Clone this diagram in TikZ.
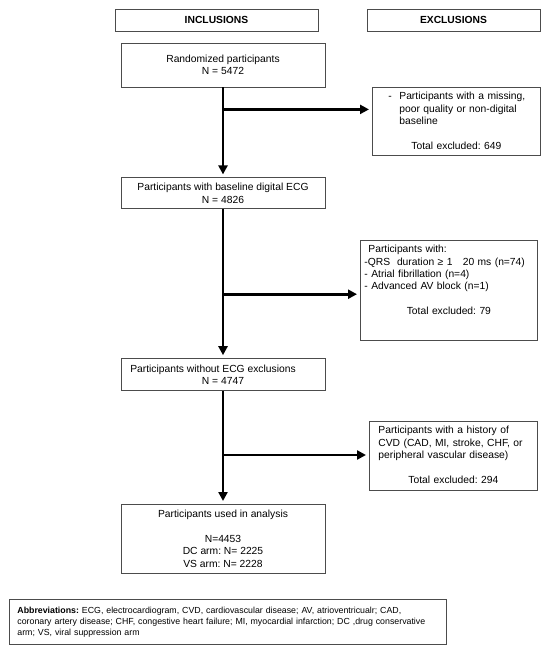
\documentclass[tikz,border=0pt]{standalone}
\usepackage{fontspec}
\setmainfont{Liberation Sans}
\usetikzlibrary{arrows.meta,calc,positioning}
\tikzstyle{head}=[rectangle, draw=black!70, line width=0.8pt, minimum height=22pt,
  font=\fontsize{10.3}{12.3}\selectfont\bfseries]
\tikzstyle{incl}=[rectangle, draw=black!70, line width=0.8pt, align=center,
  minimum width=204pt, font=\fontsize{10.3}{12.3}\selectfont\frenchspacing]
\tikzstyle{excl}=[rectangle, draw=black!70, line width=0.8pt, align=left, anchor=north west,
  inner xsep=4pt, inner ysep=5pt, font=\fontsize{10.3}{12.3}\selectfont\frenchspacing]
\tikzstyle{flow}=[line width=2.6pt, -{Triangle[length=9pt,width=9pt]}, shorten >=3pt]

\begin{document}
\begin{tikzpicture}[x=1pt, y=-1pt]
  \useasboundingbox (0,0) rectangle (552,652);
  % headers
  \node[head, minimum width=203pt] (inhead) at (216.5,20) {INCLUSIONS};
  \node[head, minimum width=173pt] (exhead) at (453.5,20) {EXCLUSIONS};
  % inclusion column
  \node[incl, minimum height=44pt] (rand) at (223,65) {Randomized participants\\ N = 5472};
  \node[incl, minimum height=31pt, below=90pt of rand]
    (base) {Participants with baseline digital ECG\\ N = 4826};
  \node[incl, minimum height=32pt, below=149pt of base]
    (ecgok) {Participants without ECG exclusions\hspace*{20pt}\\ N = 4747};
  \node[incl, minimum height=69pt, below=113pt of ecgok]
    (used) {Participants used in analysis\\[12.3pt] N=4453\\ DC arm: N= 2225\\ VS arm: N= 2228};
  % exclusion boxes
  \node[excl, text width=160pt] (miss) at (372,87)
    {\hspace*{12pt}\makebox[11pt][l]{-}Participants with a missing,\\
     \hspace*{23pt}poor quality or non-digital\\
     \hspace*{23pt}baseline\par\vspace{12.3pt}
     \makebox[\linewidth]{Total excluded: 649\rule[-1.5pt]{0pt}{1.5pt}}};
  \node[excl, text width=169pt] (ecgex) at (360,240)
    {\hspace*{4pt}Participants with:\\
     -QRS\ \ duration ≥ 1\ \ \ 20 ms (n=74)\\
     - Atrial fibrillation (n=4)\\
     - Advanced AV block (n=1)\par\vspace{12.3pt}
     \makebox[\linewidth]{Total excluded: 79\rule[-21pt]{0pt}{21pt}}};
  \node[excl, text width=160pt] (cvd) at (369,421)
    {\hspace*{5pt}Participants with a history of\\
     \hspace*{5pt}CVD (CAD, MI, stroke, CHF, or\\
     \hspace*{5pt}peripheral vascular disease)\par\vspace{12.3pt}
     \makebox[\linewidth]{Total excluded: 294\rule[-2.5pt]{0pt}{2.5pt}}};
  % abbreviations
  \node[rectangle, draw=black!70, line width=0.8pt, anchor=north west, align=left,
    text width=421pt, inner xsep=8pt, minimum height=45pt,
    font=\fontsize{8.8}{11}\selectfont\frenchspacing]
    (abbr) at (9,599)
    {\textbf{Abbreviations:} ECG, electrocardiogram, CVD, cardiovascular disease; AV, atrioventricualr; CAD,\\
     coronary artery disease; CHF, congestive heart failure; MI, myocardial infarction; DC ,drug conservative\\
     arm; VS, viral suppression arm};
  % arrows
  \coordinate (j1) at ($(rand.south)+(0,22)$);
  \coordinate (j2) at ($(base.south)+(0,85)$);
  \coordinate (j3) at ($(ecgok.south)+(0,64)$);
  \draw[flow] (rand) -- (base);
  \draw[flow] (base) -- (ecgok);
  \draw[flow] (ecgok) -- (used);
  \draw[flow] (j1) -- (j1 -| miss.west);
  \draw[flow] (j2) -- (j2 -| ecgex.west);
  \draw[flow] (j3) -- (j3 -| cvd.west);
\end{tikzpicture}
\end{document}
